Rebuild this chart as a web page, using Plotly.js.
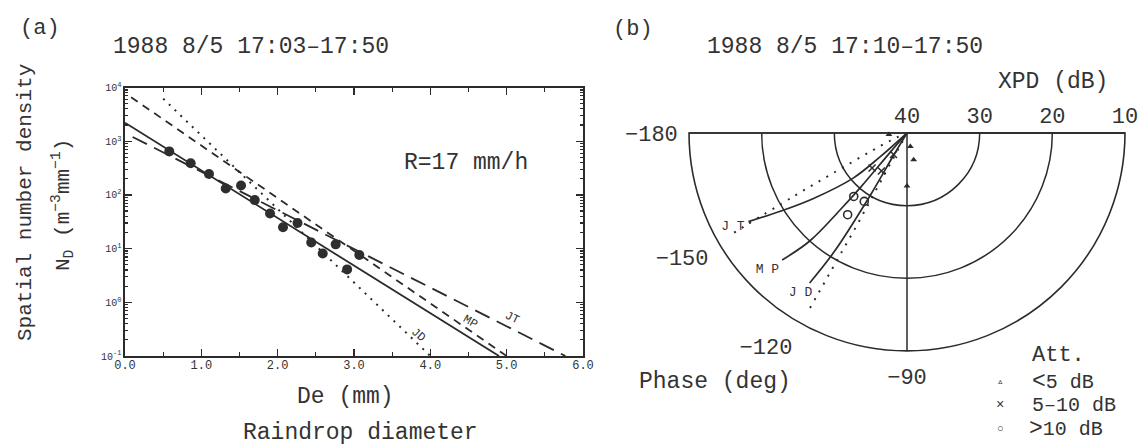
<!DOCTYPE html>
<html>
<head>
<meta charset="utf-8">
<script src="https://cdn.plot.ly/plotly-3.0.1.min.js"></script>
<style>html,body{margin:0;padding:0;background:#fff;}#chart{width:1145px;height:448px;}</style>
</head>
<body>
<div id="chart"></div>
<script>
// ---------- Panel (a): drop size distribution ----------
const diameter = [0.58, 0.86, 1.10, 1.32, 1.52, 1.70, 1.90, 2.07, 2.26, 2.44, 2.59, 2.76, 2.91, 3.07];
const density  = [646, 389, 245, 132, 150, 80, 45, 25, 30, 13, 8.1, 12, 4.1, 7.6];

const fitDe = [0.0, 4.9];   const fitNd = [2200, 0.1];   // solid (measured fit)
const mpDe  = [0.08, 5.0];  const mpNd  = [6600, 0.1];   // MP  short dash
const jdDe  = [0.5, 4.0];   const jdNd  = [6200, 0.1];   // JD  dotted
const jtDe  = [0.1, 5.77];  const jtNd  = [1200, 0.1];   // JT  long dash

const xTickVals = [0, 1, 2, 3, 4, 5, 6];
const xTickText = ["0.0", "1.0", "2.0", "3.0", "4.0", "5.0", "6.0"];
const yTickVals = [0.1, 1, 10, 100, 1000, 10000];
const yTickText = ["10<sup>-1</sup>", "10<sup>0</sup>", "10<sup>1</sup>", "10<sup>2</sup>", "10<sup>3</sup>", "10<sup>4</sup>"];

// ---------- Panel (b): XPD / phase polar diagram ----------
const jtXpd = [40, 35.1, 30.4, 24.3, 19.5, 15.0];
const jtPhase = [-138, -138.5, -140, -145, -148.3, -150.8];
const mpXpd = [40, 36.6, 30.2, 26.0, 20.0, 15.5];
const mpPhase = [-131, -131, -130.5, -131, -132, -134.5];
const jdXpd = [40, 36.3, 30.1, 20.9, 15.4];
const jdPhase = [-121, -121, -120.5, -121.5, -123];
const jtDotXpd = [40, 37.5, 31.2, 22.1, 11.6];
const jtDotPhase = [-160, -155.5, -152, -150.8, -150];
const jdDotXpd = [40, 25.6, 12.1];
const jdDotPhase = [-118, -118.5, -119];

const lowAttXpd = [38.1, 36.2, 32.7, 37.5];   const lowAttPhase = [-76, -76, -90, -175];
const midAttXpd = [33.2, 33.7, 36.5];         const midAttPhase = [-135, -124, -122];
const highAttXpd = [28.6, 28.9, 26.1];        const highAttPhase = [-130, -122, -126];

const modelLabels = ["J T", "M P", "J D"];
const labelXpd = [12.8, 13.1, 13.6];
const labelPhase = [-151.7, -135.6, -123.7];

const radialTicks = [40, 30, 20, 10];
const phaseTicks = [180, 210, 240, 270];          // = -180, -150, -120, -90 deg
const phaseTickText = ["\u2212180", "\u2212150", "\u2212120", "\u221290"];

// ---------- drawing ----------
const W = 1145, H = 448;
const FONT = "Liberation Mono, DejaVu Sans Mono, monospace";
const INK = "#2b2b2b";
const TXT = "#333333";

const traces = [
  {x: fitDe, y: fitNd, mode: "lines", line: {color: INK, width: 1.8}, xaxis: "x", yaxis: "y"},
  {x: mpDe, y: mpNd, mode: "lines", line: {color: INK, width: 1.8, dash: "8px,6px"}, xaxis: "x", yaxis: "y"},
  {x: jdDe, y: jdNd, mode: "lines", line: {color: INK, width: 2, dash: "2px,6px"}, xaxis: "x", yaxis: "y"},
  {x: jtDe, y: jtNd, mode: "lines", line: {color: INK, width: 1.8, dash: "16px,8px"}, xaxis: "x", yaxis: "y"},
  {x: diameter, y: density, mode: "markers", marker: {color: "#2e2e2e", size: 10}, xaxis: "x", yaxis: "y"},

  {type: "scatterpolar", subplot: "polar", r: jtXpd, theta: jtPhase, mode: "lines", line: {color: INK, width: 1.7, shape: "spline"}},
  {type: "scatterpolar", subplot: "polar", r: mpXpd, theta: mpPhase, mode: "lines", line: {color: INK, width: 1.7, shape: "spline"}},
  {type: "scatterpolar", subplot: "polar", r: jdXpd, theta: jdPhase, mode: "lines", line: {color: INK, width: 1.7, shape: "spline"}},
  {type: "scatterpolar", subplot: "polar", r: jtDotXpd, theta: jtDotPhase, mode: "lines", line: {color: INK, width: 2, dash: "2px,7px", shape: "spline"}},
  {type: "scatterpolar", subplot: "polar2", r: jdDotXpd, theta: jdDotPhase, mode: "lines", line: {color: INK, width: 2, dash: "2px,7px"}},
  {type: "scatterpolar", subplot: "polar", r: lowAttXpd, theta: lowAttPhase, mode: "markers", marker: {symbol: "triangle-up", size: 6, color: INK}},
  {type: "scatterpolar", subplot: "polar", r: midAttXpd, theta: midAttPhase, mode: "markers", marker: {symbol: "x-thin-open", size: 7, color: INK, line: {width: 1.5, color: INK}}},
  {type: "scatterpolar", subplot: "polar", r: highAttXpd, theta: highAttPhase, mode: "markers", marker: {symbol: "circle-open", size: 8, color: INK, line: {width: 1.6, color: INK}}},
  {type: "scatterpolar", subplot: "polar", r: labelXpd, theta: labelPhase, mode: "text", text: modelLabels, textfont: {family: FONT, size: 13, color: TXT}}
];

function ann(x, y, text, size, extra) {
  return Object.assign({xref: "paper", yref: "paper", x: x / W, y: 1 - y / H, text: text, showarrow: false,
    font: {family: FONT, size: size, color: TXT}, xanchor: "center", yanchor: "middle"}, extra || {});
}

const yMinor = [];
for (let e = -1; e < 4; e++) for (let k = 2; k <= 9; k++) yMinor.push(k * Math.pow(10, e));

const annotations = [
  ann(40, 28, "(a)", 22),
  ann(251, 47, "1988 8/5 17:03\u201317:50", 23),
  ann(466, 163, "R=17 mm/h", 23),
  ann(25, 203, "Spatial number density", 21, {textangle: -90}),
  ann(62, 205, "N<sub>D</sub> (m<sup>\u22123</sup>mm<sup>\u22121</sup>)", 21, {textangle: -90}),
  ann(345, 397, "De (mm)", 23),
  ann(360, 433, "Raindrop diameter", 23),
  {xref: "x", yref: "y", x: 3.84, y: -0.61, text: "JD", showarrow: false, textangle: 40, font: {family: FONT, size: 12, color: TXT}},
  {xref: "x", yref: "y", x: 4.52, y: -0.37, text: "MP", showarrow: false, textangle: 30, font: {family: FONT, size: 12, color: TXT}},
  {xref: "x", yref: "y", x: 5.07, y: -0.29, text: "JT", showarrow: false, textangle: 25, font: {family: FONT, size: 12, color: TXT}},

  ann(633, 30, "(b)", 22),
  ann(845, 47, "1988 8/5 17:10\u201317:50", 23),
  ann(1053, 82, "XPD (dB)", 23),
  ann(715, 382, "Phase (deg)", 23),
  ann(1030, 355, "Att.", 22, {xanchor: "left"}),
  ann(1000, 382, "\u25B5", 11),
  ann(1000, 405, "\u00D7", 14),
  ann(1000, 429, "\u25CB", 11),
  ann(1030, 382, "<span style='font-size:23px'>&lt;</span>5 dB", 20, {xanchor: "left"}),
  ann(1030, 405, "5\u201310 dB", 20, {xanchor: "left"}),
  ann(1027, 429, "<span style='font-size:23px'>&gt;</span>10 dB", 20, {xanchor: "left"})
];

const polarDomain = {x: [689 / W, 1125 / W], y: [1 - 351 / H, 1 - 133 / H]};

const layout = {
  width: W, height: H,
  margin: {l: 0, r: 0, t: 0, b: 0},
  paper_bgcolor: "#ffffff", plot_bgcolor: "#ffffff",
  showlegend: false,
  font: {family: FONT, color: TXT},
  xaxis: {
    domain: [125 / W, 583 / W], range: [0, 6],
    tickmode: "array", tickvals: xTickVals, ticktext: xTickText,
    ticks: "inside", ticklen: 7, tickwidth: 1.2, tickcolor: INK,
    minor: {ticks: "inside", ticklen: 4, dtick: 0.5, tick0: 0, tickcolor: INK},
    showline: true, linecolor: INK, linewidth: 1.6, mirror: "ticks",
    showgrid: false, zeroline: false, ticklabelstandoff: -3,
    tickfont: {family: FONT, size: 12, color: TXT}
  },
  yaxis: {
    domain: [1 - 356 / H, 1 - 87.5 / H], type: "log", range: [-1, 4],
    tickmode: "array", tickvals: yTickVals, ticktext: yTickText,
    ticks: "inside", ticklen: 7, tickwidth: 1.2, tickcolor: INK,
    minor: {ticks: "inside", ticklen: 3, tickmode: "array", tickvals: yMinor, tickcolor: INK},
    showline: true, linecolor: INK, linewidth: 1.6, mirror: "ticks",
    showgrid: false, zeroline: false,
    tickfont: {family: FONT, size: 10, color: TXT}
  },
  polar: {
    domain: polarDomain, sector: [180, 360], bgcolor: "rgba(0,0,0,0)",
    radialaxis: {
      range: [40, 10], tickmode: "array", tickvals: radialTicks, ticktext: radialTicks.map(String),
      angle: 0, side: "counterclockwise", tickangle: 0,
      showline: true, linecolor: INK, linewidth: 1.6,
      showgrid: true, gridcolor: INK, gridwidth: 1.5, ticks: "",
      tickfont: {family: FONT, size: 22, color: TXT}
    },
    angularaxis: {
      rotation: 0, direction: "counterclockwise", thetaunit: "degrees",
      tickmode: "array", tickvals: phaseTicks, ticktext: phaseTickText,
      showgrid: false, showline: true, linecolor: INK, linewidth: 1.6,
      ticks: "outside", ticklen: 6, tickcolor: "rgba(0,0,0,0)",
      tickfont: {family: FONT, size: 22, color: TXT}
    }
  },
  polar2: {
    domain: polarDomain, sector: [180, 360], bgcolor: "rgba(0,0,0,0)",
    radialaxis: {range: [40, 10], visible: false},
    angularaxis: {
      rotation: 0, direction: "counterclockwise", thetaunit: "degrees",
      tickmode: "array", tickvals: [180, 270, 360], showticklabels: false, ticks: "",
      showgrid: true, gridcolor: INK, gridwidth: 1.5, showline: false
    }
  },
  annotations: annotations
};

Plotly.newPlot("chart", traces, layout, {staticPlot: true, displayModeBar: false});
</script>
</body>
</html>
